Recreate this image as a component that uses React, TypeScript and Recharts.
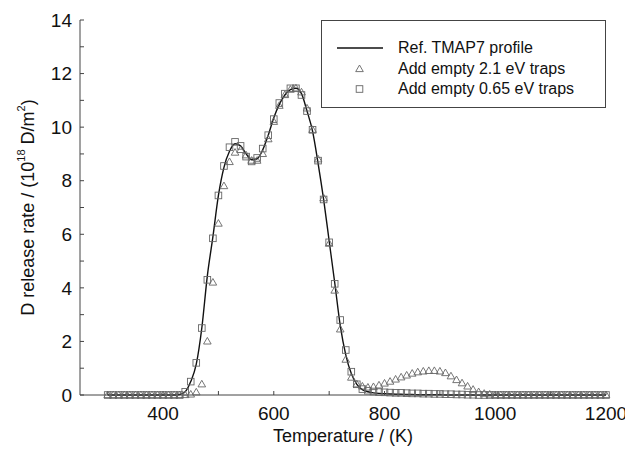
import { ComposedChart, Line, XAxis, YAxis, Legend } from 'recharts'

// temperature grid of the TDS profiles (K)
const temps = [
  300, 310, 320, 330, 340, 350, 360, 370, 380, 390,
  400, 410, 420, 430, 440, 450, 460, 470, 480, 490,
  500, 510, 520, 530, 540, 550, 560, 570, 580, 590,
  600, 610, 620, 630, 640, 650, 660, 670, 680, 690,
  700, 710, 720, 730, 740, 750, 760, 770, 780, 790,
  800, 810, 820, 830, 840, 850, 860, 870, 880, 890,
  900, 910, 920, 930, 940, 950, 960, 970, 980, 990,
  1000, 1010, 1020, 1030, 1040, 1050, 1060, 1070, 1080, 1090,
  1100, 1110, 1120, 1130, 1140, 1150, 1160, 1170, 1180, 1190,
  1200,
]

// Ref. TMAP7 profile
const refProfile = [
  0, 0, 0, 0, 0, 0, 0, 0, 0, 0,
  0, 0, 0, 0.02, 0.12, 0.5, 1.15, 2.5, 4.45, 5.9,
  7.45, 8.5, 9.1, 9.38, 9.3, 9.0, 8.78, 8.82, 9.15, 9.7,
  10.35, 10.85, 11.2, 11.4, 11.45, 11.25, 10.6, 9.85, 8.65, 7.3,
  5.75, 4.2, 2.6, 1.5, 0.8, 0.4, 0.2, 0.12, 0.08, 0.06,
  0.05, 0.04, 0.03, 0.03, 0.02, 0.02, 0.01, 0.01, 0.01, 0.01,
  0.01, 0, 0, 0, 0, 0, 0, 0, 0, 0,
  0, 0, 0, 0, 0, 0, 0, 0, 0, 0,
  0, 0, 0, 0, 0, 0, 0, 0, 0, 0,
  0,
]

// Add empty 2.1 eV traps (triangles)
const trap21 = [
  0, 0, 0, 0, 0, 0, 0, 0, 0, 0,
  0, 0, 0, 0, 0, 0.02, 0.1, 0.4, 2.0, 4.2,
  6.4, 7.8, 8.7, 9.05, 9.15, 8.95, 8.75, 8.75, 9.0, 9.55,
  10.2, 10.8, 11.2, 11.4, 11.45, 11.3, 10.7, 9.9, 8.8, 7.35,
  5.65, 3.9, 2.45, 1.32, 0.65, 0.4, 0.32, 0.28, 0.3, 0.36,
  0.43, 0.5, 0.58, 0.66, 0.73, 0.8, 0.85, 0.88, 0.9, 0.9,
  0.88, 0.82, 0.7, 0.56, 0.44, 0.32, 0.2, 0.11, 0.05, 0.02,
  0, 0, 0, 0, 0, 0, 0, 0, 0, 0,
  0, 0, 0, 0, 0, 0, 0, 0, 0, 0,
  0,
]

// Add empty 0.65 eV traps (squares)
const trap065 = [
  0, 0, 0, 0, 0, 0, 0, 0, 0, 0,
  0, 0, 0, 0, 0.12, 0.5, 1.2, 2.5, 4.3, 5.85,
  7.45, 8.55, 9.25, 9.45, 9.3, 8.9, 8.72, 8.85, 9.2, 9.7,
  10.3, 10.9, 11.25, 11.45, 11.45, 11.2, 10.6, 9.9, 8.75, 7.3,
  5.7, 4.15, 2.8, 1.68, 0.87, 0.4, 0.22, 0.16, 0.13, 0.11,
  0.1, 0.09, 0.08, 0.08, 0.07, 0.06, 0.06, 0.05, 0.05, 0.04,
  0.04, 0.03, 0.03, 0.02, 0.02, 0.01, 0.01, 0, 0, 0,
  0, 0, 0, 0, 0, 0, 0, 0, 0, 0,
  0, 0, 0, 0, 0, 0, 0, 0, 0, 0,
  0,
]

const xTicks = [300, 400, 500, 600, 700, 800, 900, 1000, 1100, 1200]
const yTicks = [0, 1, 2, 3, 4, 5, 6, 7, 8, 9, 10, 11, 12, 13, 14]

const data = temps.map((t, i) => ({
  t,
  ref: refProfile[i],
  tri: trap21[i],
  sq: trap065[i],
}))

const FONT = '"Liberation Sans", Arial, Helvetica, sans-serif'
const MARK = '#666'
const FRAME = '#444'

const triangleDot = (p: any) => {
  const { cx, cy, index } = p
  if (cx == null || cy == null) return null
  return (
    <path
      key={`tri-${index}`}
      d={`M${cx},${cy - 4} L${cx + 3.8},${cy + 2.6} L${cx - 3.8},${cy + 2.6} Z`}
      fill="none"
      stroke={MARK}
      strokeWidth={0.9}
    />
  )
}

const squareDot = (p: any) => {
  const { cx, cy, index } = p
  if (cx == null || cy == null) return null
  return (
    <rect
      key={`sq-${index}`}
      x={cx - 3.3}
      y={cy - 3.3}
      width={6.6}
      height={6.6}
      fill="none"
      stroke={MARK}
      strokeWidth={0.9}
    />
  )
}

const XTitle = (props: any) => {
  const vb = props.viewBox
  return (
    <text
      x={vb.x + vb.width / 2}
      y={vb.y + 41}
      textAnchor="middle"
      dominantBaseline="central"
      fontSize={18}
      fill="#111"
      fontFamily={FONT}
    >
      Temperature / (K)
    </text>
  )
}

const YTitle = (props: any) => {
  const vb = props.viewBox
  const cy = vb.y + vb.height / 2
  return (
    <text
      x={20}
      y={cy}
      transform={`rotate(-90, 20, ${cy})`}
      textAnchor="middle"
      dominantBaseline="central"
      fontSize={18}
      fill="#111"
      fontFamily={FONT}
    >
      D release rate / (10
      <tspan fontSize={11} dy={-7}>18</tspan>
      <tspan dy={7}> D/m</tspan>
      <tspan fontSize={11} dy={-7}>2</tspan>
      <tspan dy={7}>)</tspan>
    </text>
  )
}

const LegendBox = () => {
  const row = (icon: any, text: string, top: number) => (
    <div style={{ position: 'absolute', left: 0, top: top - 10, height: 20, width: '100%' }}>
      <svg width={70} height={20} style={{ position: 'absolute', left: 0, top: 0 }}>
        {icon}
      </svg>
      <span
        style={{
          position: 'absolute',
          left: 76,
          top: 0,
          lineHeight: '20px',
          fontSize: 16,
          color: '#111',
          whiteSpace: 'nowrap',
        }}
      >
        {text}
      </span>
    </div>
  )
  return (
    <div
      style={{
        position: 'relative',
        width: 285,
        height: 88,
        border: `1px solid ${FRAME}`,
        boxSizing: 'border-box',
        background: '#fff',
        fontFamily: FONT,
      }}
    >
      {row(<line x1={15} x2={61} y1={10} y2={10} stroke="#111" strokeWidth={1.4} />, 'Ref. TMAP7 profile', 27)}
      {row(
        <path d="M37.5,6 L41.3,12.6 L33.7,12.6 Z" fill="none" stroke={MARK} strokeWidth={0.9} />,
        'Add empty 2.1 eV traps',
        48,
      )}
      {row(
        <rect x={34.2} y={6.7} width={6.6} height={6.6} fill="none" stroke={MARK} strokeWidth={0.9} />,
        'Add empty 0.65 eV traps',
        68,
      )}
    </div>
  )
}

export default function App() {
  return (
    <ComposedChart
      width={625}
      height={440}
      data={data}
      margin={{ top: 12, right: 27, bottom: 0, left: 0 }}
      style={{ fontFamily: FONT }}
    >
      <XAxis
        xAxisId="top"
        orientation="top"
        dataKey="t"
        type="number"
        domain={[250, 1200]}
        ticks={xTicks}
        tick={false}
        tickSize={-4}
        height={0}
        stroke={FRAME}
      />
      <XAxis
        dataKey="t"
        type="number"
        domain={[250, 1200]}
        ticks={xTicks}
        tickSize={-4}
        tickMargin={16}
        height={53}
        stroke={FRAME}
        tick={{ fill: '#111', fontSize: 19 }}
        tickFormatter={(v: number) => (v % 200 === 0 ? String(v) : '')}
        label={XTitle}
      />
      <YAxis
        domain={[0, 14]}
        ticks={yTicks}
        tickSize={-4}
        tickMargin={12}
        width={72}
        stroke={FRAME}
        tick={{ fill: '#111', fontSize: 19 }}
        tickFormatter={(v: number) => (v % 2 === 0 ? String(v) : '')}
        label={YTitle}
      />
      <YAxis
        yAxisId="right"
        orientation="right"
        domain={[0, 14]}
        ticks={yTicks}
        tick={false}
        tickSize={-4}
        width={0}
        stroke={FRAME}
      />
      <Legend
        layout="horizontal"
        align="center"
        verticalAlign="middle"
        wrapperStyle={{ position: 'absolute', left: 313, top: 12, width: 285 }}
        content={() => <LegendBox />}
      />
      <Line
        dataKey="sq"
        stroke="none"
        dot={squareDot}
        activeDot={false}
        legendType="none"
        isAnimationActive={false}
      />
      <Line
        dataKey="tri"
        stroke="none"
        dot={triangleDot}
        activeDot={false}
        legendType="none"
        isAnimationActive={false}
      />
      <Line
        dataKey="ref"
        type="monotone"
        stroke="#111"
        strokeWidth={1.4}
        dot={false}
        activeDot={false}
        isAnimationActive={false}
      />
    </ComposedChart>
  )
}
